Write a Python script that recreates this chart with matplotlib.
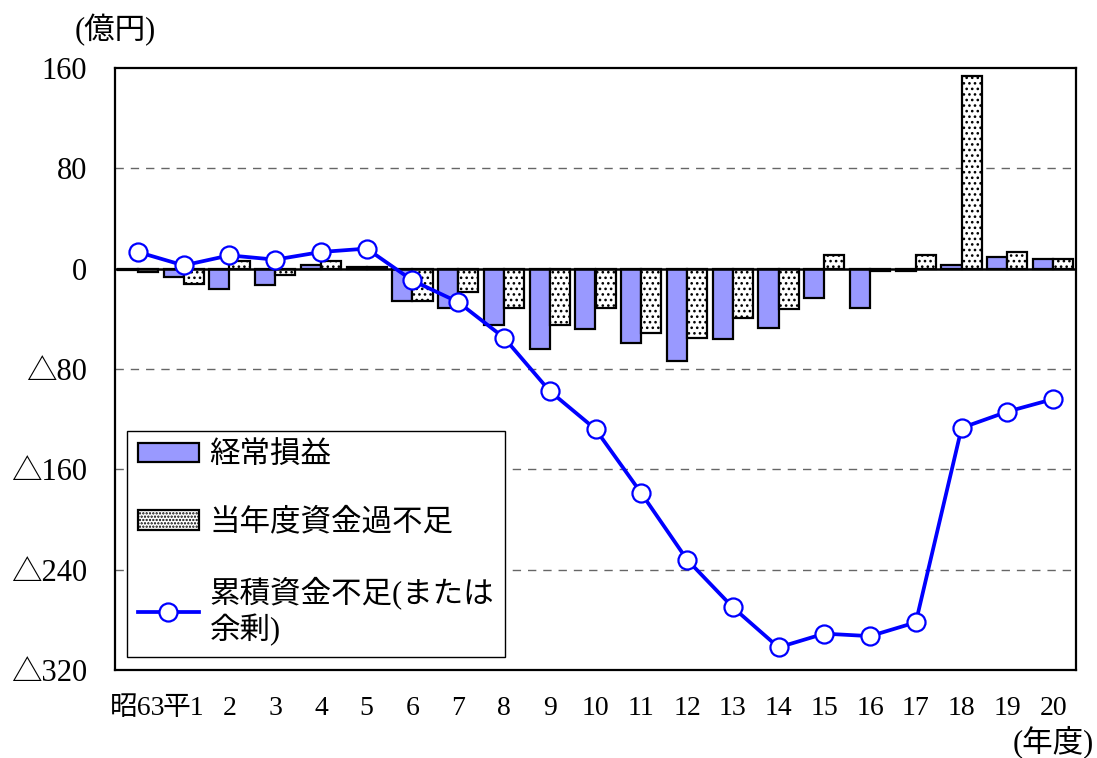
import matplotlib
matplotlib.use('Agg')
import matplotlib.pyplot as plt
from matplotlib.patches import Patch
from matplotlib.lines import Line2D
from matplotlib.ticker import FuncFormatter

plt.rcParams['font.family'] = ['Liberation Serif', 'Noto Sans CJK JP', 'DejaVu Sans']
plt.rcParams['hatch.linewidth'] = 1.1

# 年度
years = ['昭63', '平1', '2', '3', '4', '5', '6', '7', '8', '9', '10',
         '11', '12', '13', '14', '15', '16', '17', '18', '19', '20']

# 経常損益 (億円)
keijo = [-1, -7, -16.5, -13, 3, 1, -26, -31, -45, -64, -48,
         -59.5, -74, -56, -47, -23, -31, -1.5, 3, 9, 7.5]

# 当年度資金過不足 (億円)
kabusoku = [-3, -12, 6, -5, 6, 1, -26, -19, -31, -45, -31,
            -51.5, -55, -39, -32, 11, -1.5, 11, 154, 13, 7.5]

# 累積資金不足(または余剰) (億円)
ruiseki = [13.3, 2.6, 10.6, 7.2, 13.3, 16, -9.4, -26.7, -55, -97.6, -128,
           -179, -232, -270, -302, -291, -293, -282, -127, -114, -104]

x = list(range(len(years)))
w = 0.44

fig = plt.figure(figsize=(10.97, 7.58), dpi=100)
ax = fig.add_axes([115 / 1097, 1 - 670 / 758, 961 / 1097, 602 / 758])

ax.bar([i - w / 2 for i in x], keijo, width=w, color='#9999ff',
       edgecolor='black', linewidth=1.6, zorder=3)
ax.bar([i + w / 2 for i in x], kabusoku, width=w, color='white',
       edgecolor='black', hatch='...', linewidth=1.6, zorder=3)
ax.plot(x, ruiseki, color='#0000ff', linewidth=2.7, marker='o',
        markersize=13, markerfacecolor='white', markeredgecolor='#0000ff',
        markeredgewidth=1.6, zorder=5)

ax.axhline(0, color='black', linewidth=1.8, zorder=4)
for v in [80, -80, -160, -240]:
    ax.axhline(v, color='#666666', linewidth=1.0, linestyle=(0, (6, 5)), zorder=1)

ax.set_xlim(-0.5, len(years) - 0.5)
ax.set_ylim(-320, 160)
ax.set_yticks([160, 80, 0, -80, -160, -240, -320])
ax.yaxis.set_major_formatter(FuncFormatter(
    lambda v, p: '△' + str(int(abs(v))) if v < 0 else str(int(v))))
ax.set_xticks(x)
ax.set_xticklabels(years)
ax.tick_params(axis='y', length=0, labelsize=22, pad=20)
ax.tick_params(axis='x', length=0, labelsize=20, pad=19)
for sp in ax.spines.values():
    sp.set_linewidth(1.6)

fig.text(115 / 1097, 1 - 30 / 758, '(億円)', fontsize=22, ha='center', va='center')
fig.text(1053 / 1097, 1 - 742 / 758, '(年度)', fontsize=22, ha='center', va='center')

handles = [
    Patch(facecolor='#9999ff', edgecolor='black', linewidth=1.6),
    Patch(facecolor='white', edgecolor='black', hatch='.....', linewidth=1.6),
    Line2D([], [], color='#0000ff', linewidth=2.7, marker='o', markersize=13,
           markerfacecolor='white', markeredgecolor='#0000ff', markeredgewidth=1.6),
]
labels = ['経常損益', '当年度資金過不足', '累積資金不足(または\n余剰)']
leg = ax.legend(handles, labels, loc='lower left', bbox_to_anchor=(0.0125, 0.0216),
                fontsize=22, frameon=True, fancybox=False, edgecolor='black',
                framealpha=1, labelspacing=1.25, handlelength=2.0, handleheight=0.6,
                handletextpad=0.35, borderpad=0.35, borderaxespad=0)
leg.get_frame().set_linewidth(1.0)
for t in leg.get_texts():
    t.set_linespacing(1.2)
leg.set_zorder(6)

fig.savefig('out.png', dpi=100)
